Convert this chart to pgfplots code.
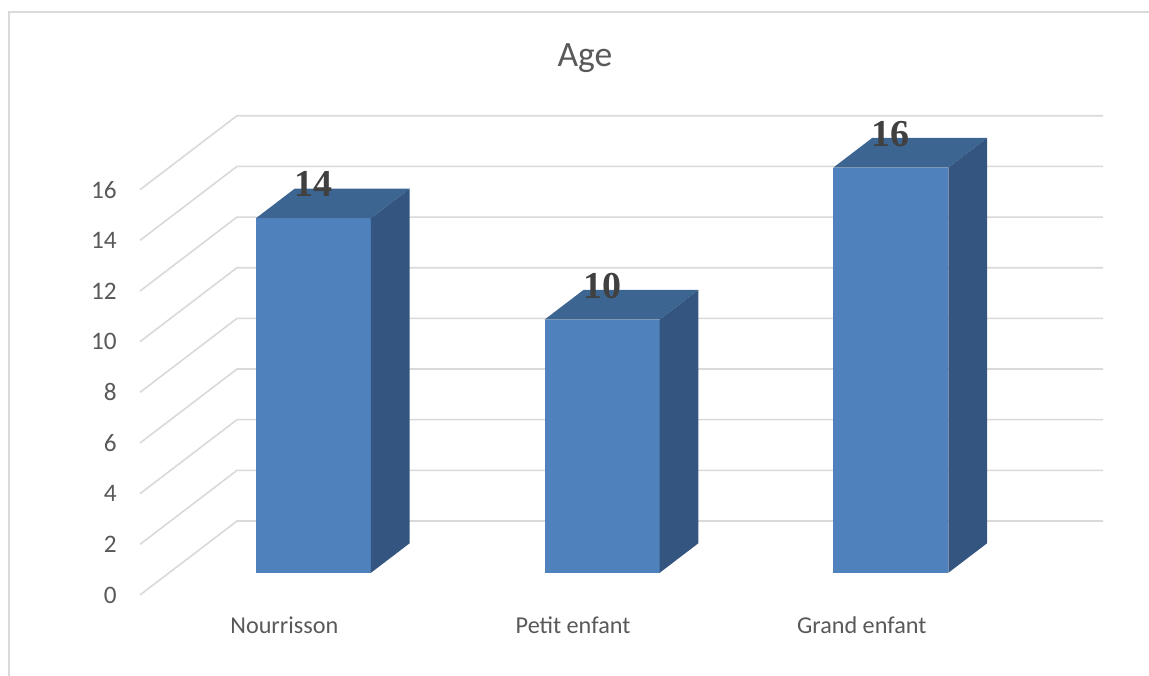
\documentclass[border=0pt]{standalone}
\usepackage{pgfplots}
\pgfplotsset{compat=1.18}
\usepackage{fontspec}
\setmainfont{Carlito}
\newfontfamily\labelfont{Liberation Serif}
\definecolor{barfront}{HTML}{4F81BD}
\definecolor{bartop}{HTML}{3C6592}
\definecolor{barside}{HTML}{33557F}
\definecolor{gridgray}{HTML}{D9D9D9}
\definecolor{txtgray}{HTML}{595959}
\definecolor{lblgray}{HTML}{404040}
\newcommand{\ticksize}{\fontsize{12.1pt}{15pt}\selectfont}
% #1 = category centre on the front plane, #2 = value
\newcommand{\tdbar}[2]{%
  \pgfmathsetmacro{\xl}{#1+0.1008-0.1990}%
  \pgfmathsetmacro{\xr}{#1+0.1008+0.1990}%
  \pgfmathsetmacro{\xc}{#1+0.1008}%
  \pgfmathsetmacro{\xlb}{\xl+0.1344}%
  \pgfmathsetmacro{\xrb}{\xr+0.1344}%
  \pgfmathsetmacro{\yt}{#2+0.876}%
  \pgfmathsetmacro{\ytb}{#2+2.044}%
  \addplot[fill=barfront, draw=none] coordinates {(\xl,0.876) (\xr,0.876) (\xr,\yt) (\xl,\yt)} -- cycle;
  \addplot[fill=bartop, draw=none] coordinates {(\xl,\yt) (\xr,\yt) (\xrb,\ytb) (\xlb,\ytb)} -- cycle;
  \addplot[fill=barside, draw=none] coordinates {(\xr,0.876) (\xrb,2.044) (\xrb,\ytb) (\xr,\yt)} -- cycle;
  \addplot[draw=none, mark=none, nodes near coords, point meta=explicit symbolic,
    nodes near coords style={anchor=base, inner sep=0pt, yshift=10.75pt,
      font=\labelfont\bfseries\fontsize{19pt}{21pt}\selectfont, text=lblgray}]
    coordinates {(\xc,\yt) [#2]};
}
\begin{document}
\begin{tikzpicture}
\useasboundingbox (-70pt,-40pt) rectangle (504.5pt,297.5pt);
\draw[gridgray, line width=1pt] (-65.5pt,-41pt) -- (-65.5pt,291.5pt) -- (505pt,291.5pt);
\node[anchor=base, inner sep=0pt, text=txtgray, font=\fontsize{17.8pt}{20pt}\selectfont] at (222.5pt,264pt) {Age};
\begin{axis}[
  at={(0,0)}, anchor=south west,
  x=144.35pt, y=12.665pt,
  xmin=0, xmax=3.336, ymin=0, ymax=18.921,
  enlargelimits=false, clip=false,
  axis line style={draw=none},
  tick style={draw=none},
  major tick length=0pt,
  xtick={0.5,1.5,2.5},
  xticklabels={Nourrisson,Petit enfant,Grand enfant},
  ytick={0,2,...,16},
  xticklabel style={anchor=base, inner sep=0pt, yshift=-19pt, font=\ticksize, text=txtgray},
  yticklabel style={anchor=east, inner sep=0pt, xshift=-11.5pt, font=\fontsize{12.6pt}{15pt}\selectfont, text=txtgray},
  /pgf/number format/assume math mode=true,
]
\pgfplotsinvokeforeach{0,2,...,16}{
  \draw[gridgray, line width=0.8pt] (axis cs:0,#1) -- ++(axis direction cs:0.336,2.921) -- ++(axis direction cs:3,0);
}
\tdbar{0.5}{14}
\tdbar{1.5}{10}
\tdbar{2.5}{16}
\end{axis}
\end{tikzpicture}
\end{document}
